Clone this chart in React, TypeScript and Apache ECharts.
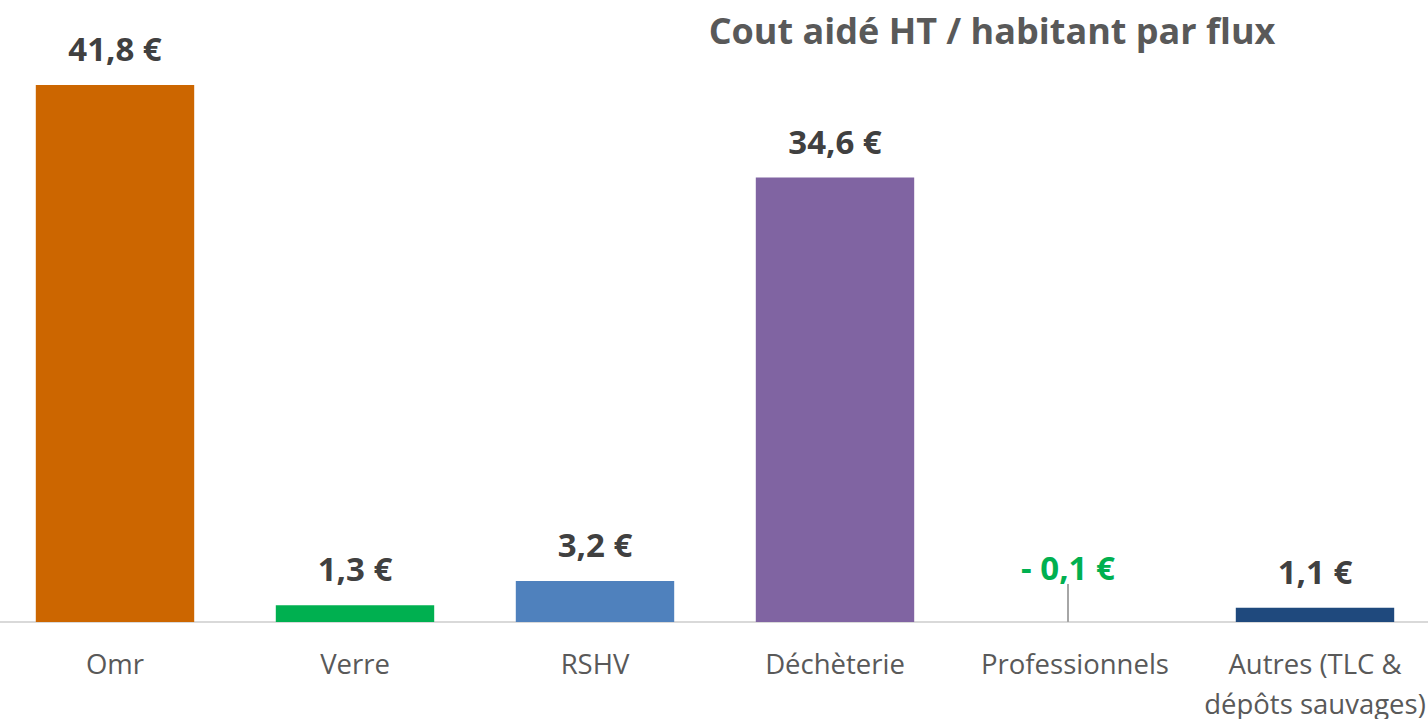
import React, { useEffect, useRef } from "react";
import * as echarts from "echarts";

const categories = ["Omr", "Verre", "RSHV", "Déchèterie", "Professionnels", "Autres (TLC &\ndépôts sauvages)"];
const values = [41.8, 1.3, 3.2, 34.6, -0.1, 1.1];
const barColors = ["#CC6600", "#00B050", "#4F81BD", "#8064A2", "#9BBB59", "#1F497D"];
const titleText = "Cout aidé HT / habitant par flux";

const FONT = "'Open Sans', sans-serif";

function fmt(v: number): string {
  const s = Math.abs(v).toFixed(1).replace(".", ",") + " €";
  return v < 0 ? "- " + s : s;
}

export default function App() {
  const ref = useRef<HTMLDivElement>(null);
  useEffect(() => {
    if (!ref.current) return;
    const chart = echarts.init(ref.current, null, { renderer: "svg" });
    chart.setOption({
      animation: false,
      backgroundColor: "#ffffff",
      title: {
        text: titleText,
        left: 987,
        top: 7,
        textAlign: "center",
        textStyle: { fontFamily: FONT, fontSize: 36, fontWeight: "bold", color: "#595959" },
      },
      grid: { left: -5, width: 1440, top: 44, bottom: 97, outerBoundsMode: "none", containLabel: false },
      xAxis: {
        type: "category",
        data: categories,
        axisLine: { show: true, lineStyle: { color: "#D9D9D9", width: 2 } },
        axisTick: { show: false },
        axisLabel: {
          fontFamily: FONT,
          fontSize: 27.5,
          color: "#595959",
          margin: 21,
          lineHeight: 40,
          interval: 0,
        },
      },
      yAxis: { type: "value", min: 0, max: 45, show: false, splitLine: { show: false } },
      series: [
        {
          type: "bar",
          barWidth: "66%",
          data: values.map((v, i) => ({
            value: v,
            itemStyle: { color: barColors[i] },
            label: v < 0 ? { color: "#00B050" } : undefined,
            labelLine: v < 0 ? { show: true, lineStyle: { color: "#A6A6A6", width: 2 } } : undefined,
          })),
          label: {
            show: true,
            position: "top",
            distance: 20,
            fontFamily: FONT,
            fontSize: 33,
            fontWeight: "bold",
            color: "#404040",
            formatter: (p: any) => fmt(p.value),
          },
          labelLayout: (p: any) => (p.dataIndex === 4 ? { dx: -7, dy: -18 } : {}),
        },
      ],
    });
    return () => chart.dispose();
  }, []);
  return <div ref={ref} style={{ position: "fixed", left: 0, top: 0, width: 1428, height: 719 }} />;
}
